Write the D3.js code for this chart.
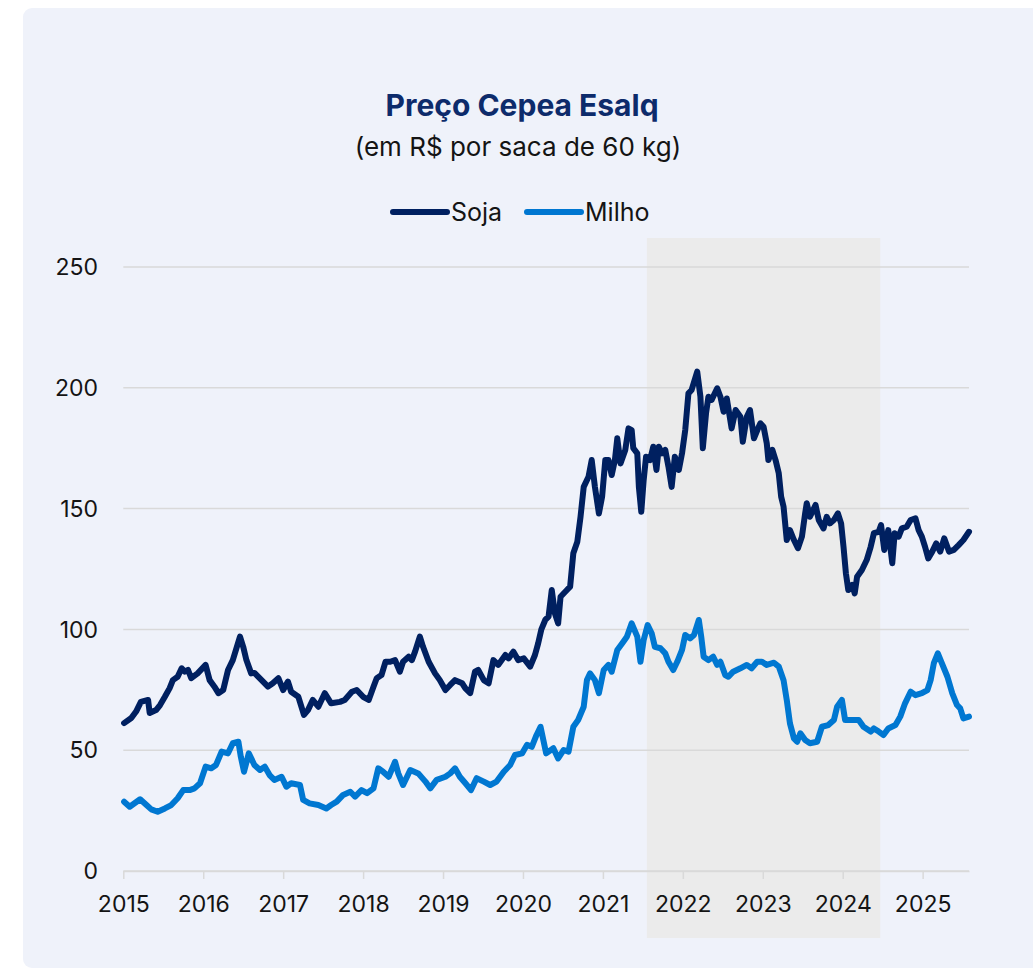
<!DOCTYPE html>
<html>
<head>
<meta charset="utf-8">
<script src="https://cdn.jsdelivr.net/npm/d3@7"></script>
<style>
  body { margin: 0; background: #fff; font-family: Inter, "Noto Sans", sans-serif; }
  svg { display: block; }
</style>
</head>
<body>
<svg width="1033" height="971"></svg>
<script>
// years as decimal numbers, values in R$ per 60 kg bag
let sojaT = [2015.01,2015.10,2015.16,2015.22,2015.31,2015.33,2015.41,2015.46,2015.52,2015.58,2015.62,2015.68,2015.73,2015.77,2015.81,2015.85,2015.93,
  2016.03,2016.08,2016.14,2016.19,2016.25,2016.31,2016.37,2016.46,2016.50,2016.54,2016.60,2016.64,2016.73,2016.81,2016.87,2016.94,
  2017.00,2017.06,2017.10,2017.19,2017.26,2017.31,2017.37,2017.44,2017.52,2017.60,2017.62,2017.71,2017.77,2017.86,2017.92,
  2018.00,2018.07,2018.13,2018.17,2018.23,2018.28,2018.34,2018.40,2018.46,2018.50,2018.57,2018.61,2018.65,2018.71,2018.75,2018.82,2018.90,2018.96,
  2019.03,2019.09,2019.15,2019.24,2019.28,2019.34,2019.40,2019.44,2019.51,2019.57,2019.63,2019.69,2019.78,2019.82,2019.88,2019.94,
  2020.01,2020.09,2020.15,2020.19,2020.23,2020.28,2020.32,2020.36,2020.40,2020.44,2020.47,2020.55,2020.59,2020.63,2020.68,2020.72,2020.76,2020.82,2020.86,2020.90,2020.95,2020.99,
  2021.03,2021.07,2021.11,2021.15,2021.18,2021.22,2021.28,2021.32,2021.36,2021.38,2021.43,2021.45,2021.48,2021.51,2021.54,2021.59,2021.63,2021.67,2021.70,2021.74,2021.78,2021.82,2021.86,2021.90,2021.95,2021.99,
  2022.03,2022.07,2022.11,2022.18,2022.22,2022.25,2022.29,2022.32,2022.36,2022.43,2022.47,2022.51,2022.55,2022.61,2022.66,2022.72,2022.75,2022.80,2022.84,2022.89,2022.95,2022.97,
  2023.01,2023.05,2023.07,2023.12,2023.16,2023.20,2023.23,2023.26,2023.30,2023.34,2023.39,2023.44,2023.49,2023.53,2023.55,2023.59,2023.66,2023.70,2023.76,2023.80,2023.84,2023.89,2023.94,2023.98,
  2024.01,2024.04,2024.07,2024.12,2024.15,2024.18,2024.24,2024.30,2024.35,2024.39,2024.45,2024.48,2024.52,2024.57,2024.62,2024.65,2024.70,2024.74,2024.80,2024.85,2024.91,2024.95,2024.99,
  2025.03,2025.07,2025.12,2025.17,2025.22,2025.27,2025.33,2025.39,2025.45,2025.51,2025.58];
let sojaV = [61.2,63.3,66,70,70.8,65.4,66.6,68.7,72.1,75.7,79,80.4,83.9,82.5,83.2,79.8,81.8,
  85.3,79,76.3,73.6,74.9,83.2,87.3,97,92.8,87.3,81.8,82,79,76.3,77.7,79.8,
  74.9,78.4,74.2,72.1,64.6,66.6,70.8,68,73.6,69.4,69.5,70,70.8,74.2,74.9,
  72.1,70.8,76.3,79.8,81.1,86.6,86.6,87.3,82.5,86.6,88.7,87.3,90.8,97,92.8,86.6,81.8,79,
  74.9,77,79,77.7,75.6,73.6,82.5,83.2,79,77.7,87.3,85.3,89.4,88,90.8,87.3,
  88,84.6,89.4,94.2,100,104,105.3,116.3,106.6,102.5,113.5,116.3,117.7,131.5,136.3,146.6,159,163.2,170.1,159,148,154.9,
  170.1,170.1,163.9,170.1,179.1,168.7,174.3,183.2,182.5,175,172.9,159,148.7,161.8,171.5,170.1,175.6,166,175.6,172.9,174.3,167.4,159,171.5,166,172.9,
  182.5,197.7,199.1,206.7,196.3,175,189.4,196.3,195,199.8,196.3,190.1,195.6,183.2,190.8,188,177.7,188,190.8,179.1,183.9,185.3,
  183.9,177,170.1,174.3,170.1,164.6,154.9,150.8,137,141.1,137,133.6,138.4,148,152.2,146.6,151.5,145.3,141.8,146.6,143.9,145.3,148,143.9,
  134.2,123.2,116.3,118.4,114.9,121.8,124.6,128.7,134.2,139.8,140.4,143.2,132.9,141.1,127.4,139.8,138.4,141.8,142.5,145.3,146,141.1,138.4,
  134.2,129.4,132.2,135.6,132.2,137.7,132.2,132.9,134.9,137,140.4];

let milhoT = [2015.01,2015.08,2015.21,2015.29,2015.35,2015.43,2015.52,2015.60,2015.68,2015.75,2015.83,2015.89,2015.96,
  2016.03,2016.10,2016.16,2016.23,2016.31,2016.37,2016.44,2016.47,2016.51,2016.57,2016.64,2016.71,2016.77,2016.83,2016.89,2016.98,
  2017.04,2017.10,2017.21,2017.25,2017.33,2017.44,2017.54,2017.60,2017.67,2017.75,2017.84,2017.90,2017.98,
  2018.05,2018.13,2018.19,2018.25,2018.32,2018.40,2018.44,2018.50,2018.59,2018.69,2018.78,2018.84,2018.92,
  2019.03,2019.09,2019.15,2019.21,2019.28,2019.35,2019.42,2019.51,2019.59,2019.67,2019.76,2019.84,2019.90,2019.99,
  2020.05,2020.11,2020.17,2020.22,2020.29,2020.38,2020.44,2020.51,2020.57,2020.63,2020.69,2020.76,2020.80,2020.84,2020.90,2020.95,
  2021.01,2021.07,2021.11,2021.18,2021.24,2021.30,2021.36,2021.43,2021.47,2021.51,2021.56,2021.61,2021.65,2021.72,2021.78,2021.82,2021.88,2021.93,2021.99,
  2022.03,2022.09,2022.14,2022.20,2022.23,2022.26,2022.32,2022.38,2022.43,2022.47,2022.53,2022.57,2022.63,2022.72,2022.80,2022.86,2022.93,2022.99,
  2023.05,2023.14,2023.20,2023.26,2023.30,2023.34,2023.39,2023.43,2023.47,2023.53,2023.59,2023.68,2023.74,2023.82,2023.89,2023.93,2023.99,
  2024.03,2024.12,2024.20,2024.26,2024.35,2024.39,2024.45,2024.51,2024.57,2024.66,2024.72,2024.78,2024.85,2024.91,2024.99,
  2025.06,2025.10,2025.14,2025.19,2025.24,2025.31,2025.37,2025.43,2025.47,2025.51,2025.58];
let milhoV = [28.7,26.6,29.7,27.3,25.5,24.5,25.9,27.3,30.1,33.5,33.5,34.2,36.3,
  43.2,42.5,43.9,49.4,48.7,52.9,53.5,47.3,41.1,48.7,43.9,41.8,43.2,39.7,37.7,39,
  34.9,36.3,35.6,29.4,28,27.3,25.9,27.3,28.7,31.5,32.8,30.8,33.5,
  32.2,34.2,42.5,41.1,39,45.2,40.4,35.6,41.8,40.4,37,34.2,37.7,
  39,40.4,42.5,39,36.3,33.5,38.4,37,35.6,37,41.1,43.9,48,48.7,
  52.2,51.4,56.3,59.7,48.7,50.8,46.6,50.1,49.4,59.7,62.5,68,79,81.8,79,73.6,
  83.2,85.3,82.5,91.5,94.2,97,102.5,97,86.6,95.6,101.8,98.4,92.8,92.2,90.1,86.6,83.2,86.6,91.5,
  97.7,96.3,97.7,103.9,97,88.7,87.3,88.7,85.3,86.6,81.1,80.4,82.5,83.9,85.3,83.9,86.6,86.6,
  85.3,86.2,84.6,79,70.8,61.1,54.9,53.5,57,54.2,52.9,53.5,59.7,60.4,62.5,68,70.8,
  62.5,62.5,62.5,59.7,57.7,59,57.7,56.3,59,60.4,63.9,69.4,74.2,72.8,73.6,
  74.9,79,86,90.1,86,80.4,73.6,68.7,67.3,63.2,63.9];

let yearTicks = [2015,2016,2017,2018,2019,2020,2021,2022,2023,2024,2025];
let yTicks = [0,50,100,150,200,250];
let shadeFrom = 2021.55, shadeTo = 2024.47;

let seriesNames = ["Soja", "Milho"];
let seriesColors = ["#002060", "#0077d1"];

let svg = d3.select("svg");

// panel background
svg.append("rect")
  .attr("x", 23).attr("y", 8)
  .attr("width", 1030).attr("height", 960)
  .attr("rx", 9)
  .attr("fill", "#eff2fa");

let x = d3.scaleLinear().domain([2015, 2025.58]).range([123.3, 969]);
let y = d3.scaleLinear().domain([0, 250]).range([871, 267]);

// highlighted period
svg.append("rect")
  .attr("x", x(shadeFrom))
  .attr("y", 238)
  .attr("width", x(shadeTo) - x(shadeFrom))
  .attr("height", 938 - 238)
  .attr("fill", "#ebebeb");

// gridlines
svg.append("g")
  .selectAll("line")
  .data(yTicks)
  .enter().append("line")
    .attr("x1", x.range()[0]).attr("x2", x.range()[1])
    .attr("y1", d => y(d)).attr("y2", d => y(d))
    .attr("stroke", "#d9d9d9")
    .attr("stroke-width", 1.5);

// y labels
svg.append("g")
  .selectAll("text")
  .data(yTicks)
  .enter().append("text")
    .attr("x", 98)
    .attr("y", d => y(d))
    .attr("dy", "0.36em")
    .attr("text-anchor", "end")
    .attr("font-size", 23)
    .attr("fill", "#141414")
    .text(d => d);

// x axis
let xAxis = svg.append("g")
  .attr("transform", "translate(0," + y(0) + ")")
  .call(d3.axisBottom(x).tickValues(yearTicks).tickFormat(d3.format("d")).tickSize(8).tickPadding(17).tickSizeOuter(0));
xAxis.select(".domain").attr("stroke", "#d9d9d9").attr("stroke-width", 1.5);
xAxis.selectAll(".tick line").attr("stroke", "#d9d9d9").attr("stroke-width", 1.5);
xAxis.selectAll(".tick text")
  .attr("font-size", 23)
  .attr("font-family", "Inter, 'Noto Sans', sans-serif")
  .attr("fill", "#141414");

// lines
let line = d3.line()
  .x(d => x(d[0]))
  .y(d => y(d[1]));

let sojaData = d3.zip(sojaT, sojaV);
let milhoData = d3.zip(milhoT, milhoV);

[sojaData, milhoData].forEach(function(data, i) {
  svg.append("path")
    .datum(data)
    .attr("d", line)
    .attr("fill", "none")
    .attr("stroke", seriesColors[i])
    .attr("stroke-width", 6)
    .attr("stroke-linejoin", "round")
    .attr("stroke-linecap", "round");
});

// title
svg.append("text")
  .attr("x", 522).attr("y", 116)
  .attr("text-anchor", "middle")
  .attr("font-size", 30)
  .attr("font-weight", 700)
  .attr("fill", "#0d2b6b")
  .text("Preço Cepea Esalq");

svg.append("text")
  .attr("x", 518).attr("y", 156)
  .attr("text-anchor", "middle")
  .attr("font-size", 26)
  .attr("fill", "#141414")
  .text("(em R$ por saca de 60 kg)");

// legend
let legendX = [393, 527];
let legend = svg.append("g")
  .selectAll("g")
  .data(seriesNames)
  .enter().append("g")
    .attr("transform", (d, i) => "translate(" + legendX[i] + ",212)");

legend.append("line")
  .attr("x1", 0).attr("x2", 54)
  .attr("stroke", (d, i) => seriesColors[i])
  .attr("stroke-width", 6)
  .attr("stroke-linecap", "round");

legend.append("text")
  .attr("x", 58)
  .attr("dy", "0.36em")
  .attr("font-size", 25)
  .attr("fill", "#141414")
  .text(d => d);
</script>
</body>
</html>
